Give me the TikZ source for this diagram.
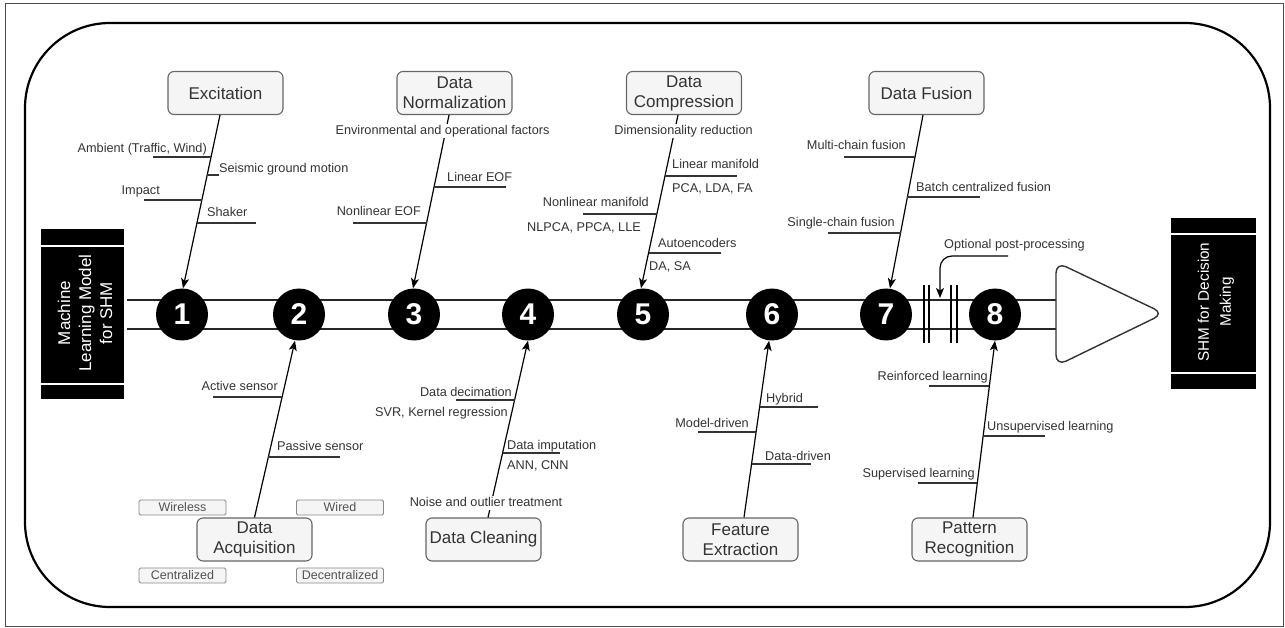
\documentclass[tikz,border=0pt]{standalone}
\usepackage{fontspec}
\setmainfont{Liberation Sans}
\usetikzlibrary{arrows.meta,calc}
\definecolor{txt}{HTML}{333333}
\definecolor{boxfill}{HTML}{F5F5F5}
\definecolor{boxdraw}{HTML}{666666}
\definecolor{smalldraw}{HTML}{888888}
\newcommand\brline[4]{%
  \draw[branch] let \p1=(#1), \p2=(#2) in (#3,#4) --
    ({\x1+((-#4pt)-\y1)/(\y2-\y1)*(\x2-\x1)}, {-#4pt});}
\begin{document}
\begin{tikzpicture}[x=1pt,y=-1pt,
  mainbox/.style={draw=boxdraw, fill=boxfill, rounded corners=6pt, line width=1.1pt,
    minimum width=115pt, minimum height=43pt, inner sep=1pt, align=center, text=txt,
    font=\fontsize{17}{20}\selectfont},
  smallbox/.style={draw=smalldraw, fill=boxfill, rounded corners=1.5pt, line width=0.9pt,
    minimum width=87pt, minimum height=15pt, inner sep=0pt, text=txt!85,
    font=\fontsize{12.5}{14}\selectfont},
  lab/.style={inner sep=0pt, text=txt, font=\fontsize{12.7}{14}\selectfont,
    text height=9pt, text depth=2.5pt},
  wlab/.style={lab, fill=white, inner sep=1.5pt},
  num/.style={circle, fill=black, minimum size=52pt, inner sep=0pt, text=white,
    font=\fontsize{30}{30}\selectfont\bfseries},
  blk/.style={fill=black, draw=none, minimum width=83pt, inner sep=0pt},
  blktext/.style={rotate=90, text=white, align=center, font=\fontsize{17}{21}\selectfont},
  arr/.style={line width=1.2pt, -{Stealth[length=10pt,width=8pt,inset=2.5pt]}},
  branch/.style={line width=1.1pt, draw=txt},
  rail/.style={line width=1.2pt, draw=black!85}
]
\useasboundingbox (0,0) rectangle (1285,628);
% frames
\draw[line width=0.9pt, black!70] (5,3) rectangle (1283,626);
\draw[line width=2.2pt, rounded corners=85pt] (25,23) rectangle (1270,607);

% rails
\coordinate (ra1) at (127,300); \coordinate (rb1) at (1057,300);
\coordinate (ra2) at (127,329); \coordinate (rb2) at (1057,329);
\draw[rail] (ra1) -- (rb1);
\draw[rail] (ra2) -- (rb2);

% bars between 7 and 8
\foreach \bx in {924,929,951,957}{
  \draw[line width=1.2pt] (\bx,285) -- (\bx,343);
}

% triangle
\draw[line width=1.4pt, draw=txt, fill=white, rounded corners=11pt]
  (1056,262) -- (1164,313.5) -- (1056,366) -- cycle;

% black side boxes
\node[blk, minimum height=170pt] (lb) at (82.5,314) {};
\draw[white, line width=1.6pt] (41,246) -- (124,246);
\draw[white, line width=1.6pt] (41,384) -- (124,384);
\node[blktext] (lbt) at (85,313) {Machine\\Learning Model\\for SHM};

\node[blk, minimum height=171pt, minimum width=85pt] (rb) at (1213.5,303.5) {};
\draw[white, line width=1.6pt] (1171,234) -- (1256,234);
\draw[white, line width=1.6pt] (1171,373) -- (1256,373);
\node[blktext, font=\fontsize{15.3}{22}\selectfont] (rbt) at (1216,302) {SHM for Decision\\Making};

% numbered circles
\node[num] (c1) at (182,314.5) {1};
\node[num] (c2) at (299,314.5) {2};
\node[num] (c3) at (414,314.5) {3};
\node[num] (c4) at (528,314.5) {4};
\node[num] (c5) at (643,314.5) {5};
\node[num] (c6) at (772,314.5) {6};
\node[num] (c7) at (886,314.5) {7};
\node[num] (c8) at (995,314.5) {8};

% main boxes
\node[mainbox] (ex) at (225.5,93) {Excitation};
\node[mainbox] (nm) at (454.5,93) {Data\\Normalization};
\node[mainbox] (cp) at (684,93) {Data\\Compression};
\node[mainbox] (fu) at (926.5,93) {Data Fusion};
\node[mainbox] (aq) at (254.5,539.5) {Data\\Acquisition};
\node[mainbox] (cl) at (483.5,539.5) {Data Cleaning};
\node[mainbox] (fe) at (740.5,539.5) {Feature\\Extraction};
\node[mainbox] (pr) at (969.5,539.5) {Pattern\\Recognition};

% small boxes
\node[smallbox] (wl) at (182.5,507.5) {Wireless};
\node[smallbox] (wd) at (340,507.5) {Wired};
\node[smallbox] (ce) at (182.5,575.5) {Centralized};
\node[smallbox] (dc) at (340,575.5) {Decentralized};

% spine coordinates
\coordinate (s1a) at ([xshift=-5.5pt]ex.south); \coordinate (s1b) at ([xshift=1pt]c1.north);
\coordinate (s3a) at ([xshift=-5.5pt]nm.south); \coordinate (s3b) at ([xshift=-1pt]c3.north);
\coordinate (s5a) at ([xshift=-6pt]cp.south);   \coordinate (s5b) at ([xshift=-2pt]c5.north);
\coordinate (s7a) at ([xshift=-3.5pt]fu.south); \coordinate (s7b) at ([xshift=4pt]c7.north);
\coordinate (s2a) at (aq.north);                \coordinate (s2b) at ([xshift=-4pt]c2.south);
\coordinate (s4a) at ([xshift=4.5pt]cl.north);  \coordinate (s4b) at (c4.south);
\coordinate (s6a) at ([xshift=3.5pt]fe.north);  \coordinate (s6b) at ([xshift=-3pt]c6.south);
\coordinate (s8a) at ([xshift=3.5pt]pr.north);  \coordinate (s8b) at (c8.south);

\draw[arr] (s1a) -- (s1b);
\draw[arr] (s3a) -- (s3b);
\draw[arr] (s5a) -- (s5b);
\draw[arr] (s7a) -- (s7b);
\draw[arr] (s2a) -- (s2b);
\draw[arr] (s4a) -- (s4b);
\draw[arr] (s6a) -- (s6b);
\draw[arr] (s8a) -- (s8b);

% --- Excitation
\node[lab, anchor=east] (t11) at (207,149) {Ambient (Traffic, Wind)};
\brline{s1a}{s1b}{153}{157}
\node[lab, anchor=west] (t12) at (219,169) {Seismic ground motion};
\brline{s1a}{s1b}{219}{175}
\node[lab, anchor=east] (t13) at (160,191) {Impact};
\brline{s1a}{s1b}{144}{200}
\node[lab, anchor=west] (t14) at (207,213) {Shaker};
\brline{s1a}{s1b}{256}{223}

% --- Normalization
\node[wlab] (t31) at (442.5,131) {Environmental and operational factors};
\node[lab, anchor=west] (t32) at (447,178) {Linear EOF};
\brline{s3a}{s3b}{506}{187}
\node[lab, anchor=east] (t33) at (421,212) {Nonlinear EOF};
\brline{s3a}{s3b}{353}{223}

% --- Compression
\node[wlab] (t51) at (683.5,131) {Dimensionality reduction};
\node[lab, anchor=west] (t52) at (672,165) {Linear manifold};
\brline{s5a}{s5b}{737}{176}
\node[lab, anchor=west] (t53) at (672,189) {PCA, LDA, FA};
\node[lab, anchor=east] (t54) at (649,203) {Nonlinear manifold};
\brline{s5a}{s5b}{583}{214}
\node[lab, anchor=east] (t55) at (641,228) {NLPCA, PPCA, LLE};
\node[lab, anchor=west] (t56) at (658,244) {Autoencoders};
\brline{s5a}{s5b}{721}{253}
\node[lab, anchor=west] (t57) at (649,267) {DA, SA};

% --- Fusion
\node[lab, anchor=east] (t71) at (906,146) {Multi-chain fusion};
\brline{s7a}{s7b}{844}{157}
\node[lab, anchor=west] (t72) at (916,188) {Batch centralized fusion};
\brline{s7a}{s7b}{980}{197}
\node[lab, anchor=east] (t73) at (895,223) {Single-chain fusion};
\brline{s7a}{s7b}{828}{233}

% --- Optional post-processing
\node[lab, anchor=west] (op) at (944,245) {Optional post-processing};
\coordinate (opa) at (1008,256);
\coordinate (opb) at (940,298);
\draw[arr, rounded corners=12pt] (opa) -- (opb |- opa) -- (opb);

% --- Acquisition
\node[lab, anchor=east] (t21) at (278,387) {Active sensor};
\brline{s2a}{s2b}{213}{397}
\node[lab, anchor=west] (t22) at (277,447) {Passive sensor};
\brline{s2a}{s2b}{340}{457}

% --- Cleaning
\node[lab, anchor=east] (t41) at (512,393) {Data decimation};
\brline{s4a}{s4b}{456}{400}
\node[lab, anchor=east] (t42) at (508,413) {SVR, Kernel regression};
\node[lab, anchor=west] (t43) at (507,446) {Data imputation};
\brline{s4a}{s4b}{560}{453}
\node[lab, anchor=west] (t44) at (507,466) {ANN, CNN};
\node[wlab] (t45) at (486,503) {Noise and outlier treatment};

% --- Feature
\node[lab, anchor=west] (t61) at (766,399) {Hybrid};
\brline{s6a}{s6b}{818}{407}
\node[lab, anchor=east] (t62) at (749,424) {Model-driven};
\brline{s6a}{s6b}{698}{432}
\node[lab, anchor=west] (t63) at (765,457) {Data-driven};
\brline{s6a}{s6b}{811}{464}

% --- Pattern
\node[lab, anchor=east] (t81) at (988,377) {Reinforced learning};
\brline{s8a}{s8b}{929}{386}
\node[lab, anchor=west] (t82) at (987,427) {Unsupervised learning};
\brline{s8a}{s8b}{1045}{436}
\node[lab, anchor=east] (t83) at (975,474) {Supervised learning};
\brline{s8a}{s8b}{918}{483}
\end{tikzpicture}
\end{document}
